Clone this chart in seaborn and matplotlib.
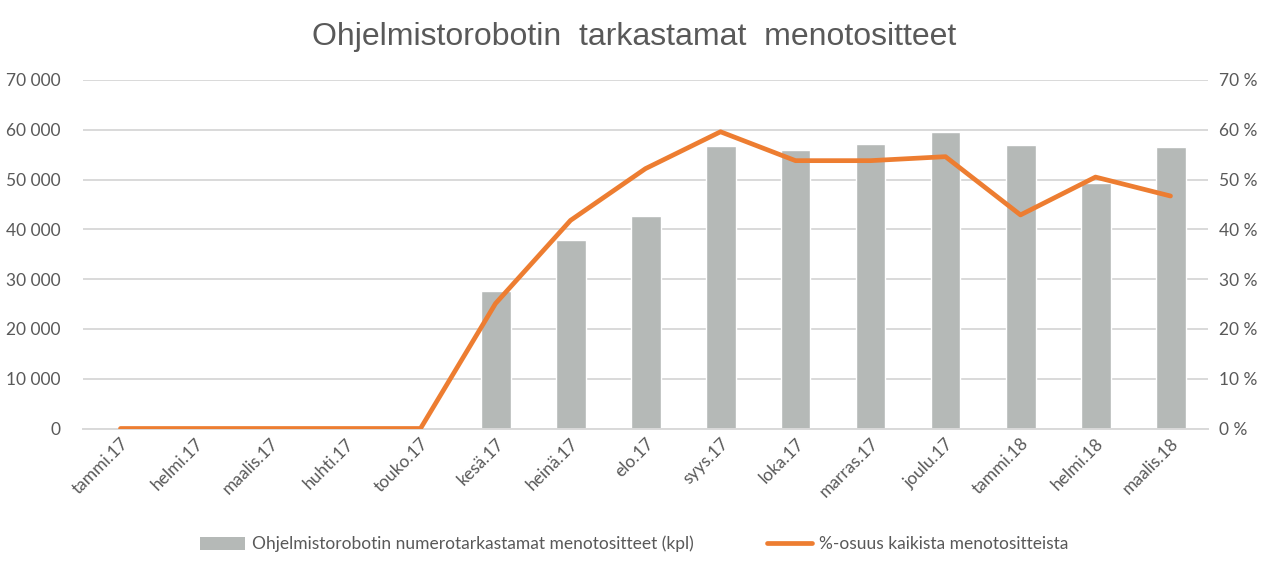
import numpy as np
import pandas as pd
import matplotlib
matplotlib.use("Agg")
import matplotlib.pyplot as plt
import seaborn as sns
from matplotlib.ticker import FuncFormatter, MultipleLocator
from matplotlib.patches import Patch
from matplotlib.lines import Line2D

months = ["tammi.17", "helmi.17", "maalis.17", "huhti.17", "touko.17", "kesä.17",
          "heinä.17", "elo.17", "syys.17", "loka.17", "marras.17", "joulu.17",
          "tammi.18", "helmi.18", "maalis.18"]
counts = [0, 0, 0, 0, 0, 27600, 37900, 42700, 56800, 55900, 57200, 59500,
          57000, 49400, 56500]
share = [0, 0, 0, 0, 0, 25.1, 41.8, 52.2, 59.6, 53.8, 53.8, 54.6, 42.9, 50.5, 46.7]

bar_label = "Ohjelmistorobotin numerotarkastamat menotositteet (kpl)"
line_label = "%-osuus kaikista menotositteista"
title = "Ohjelmistorobotin  tarkastamat  menotositteet"

sns.set_theme(style="white")
plt.rcParams["font.family"] = ["Lato", "DejaVu Sans"]

BAR = "#b5b9b7"
ORANGE = "#ed7d31"
GRID = "#d9d9d9"
TXT = "#595959"
FS = 12.5

df = pd.DataFrame({"month": months, "count": counts, "share": share,
                   "pos": np.arange(len(months))})

fig = plt.figure(figsize=(12.68, 5.73), dpi=100)
ax = fig.add_axes([83 / 1268, 1 - 428.5 / 573, (1208 - 83) / 1268, (428.5 - 80) / 573])

sns.barplot(data=df, x="month", y="count", color=BAR, width=0.4, ax=ax,
            saturation=1, zorder=2)
ax.set_ylim(0, 70000)
ax.yaxis.set_major_locator(MultipleLocator(10000))
ax.yaxis.set_major_formatter(FuncFormatter(lambda v, p: f"{int(v):,}".replace(",", " ")))
ax.set_xlim(-0.5, len(months) - 0.5)
ax.grid(axis="y", color=GRID, linewidth=1.4, zorder=0)
ax.set_axisbelow(True)
for s in ["top", "right", "left"]:
    ax.spines[s].set_visible(False)
ax.spines["bottom"].set_color(GRID)
ax.spines["bottom"].set_linewidth(1.4)
ax.set_xlabel("")
ax.set_ylabel("")
ax.tick_params(axis="y", length=0, labelsize=FS, labelcolor=TXT, pad=16)
ax.tick_params(axis="x", length=0, labelsize=FS, labelcolor=TXT, pad=5)
plt.setp(ax.get_xticklabels(), rotation=45, ha="right", rotation_mode="anchor")

ax2 = ax.twinx()
sns.lineplot(data=df, x="pos", y="share", color=ORANGE, linewidth=3.4, ax=ax2,
             zorder=3)
ax2.set_ylim(0, 70)
ax2.yaxis.set_major_locator(MultipleLocator(10))
ax2.yaxis.set_major_formatter(FuncFormatter(lambda v, p: f"{int(v)} %"))
ax2.set_xlim(-0.5, len(months) - 0.5)
for s in ["top", "right", "left", "bottom"]:
    ax2.spines[s].set_visible(False)
ax2.set_ylabel("")
ax2.set_xlabel("")
ax2.tick_params(axis="y", length=0, labelsize=FS, labelcolor=TXT, pad=8)

fig.text(0.5, 1 - 37 / 573, title, ha="center", va="center", fontsize=23,
         color=TXT, family=["Liberation Sans", "DejaVu Sans"])

handles = [Patch(facecolor=BAR, edgecolor="none"),
           Line2D([0], [0], color=ORANGE, linewidth=3.4)]
fig.legend(handles, [bar_label, line_label], loc="center",
           bbox_to_anchor=(0.5, 1 - 544 / 573), ncol=2, frameon=False,
           fontsize=FS, labelcolor=TXT, handlelength=2.6, handleheight=0.8,
           columnspacing=4.2, handletextpad=0.4)

fig.savefig("out.png", dpi=100, facecolor="white")
